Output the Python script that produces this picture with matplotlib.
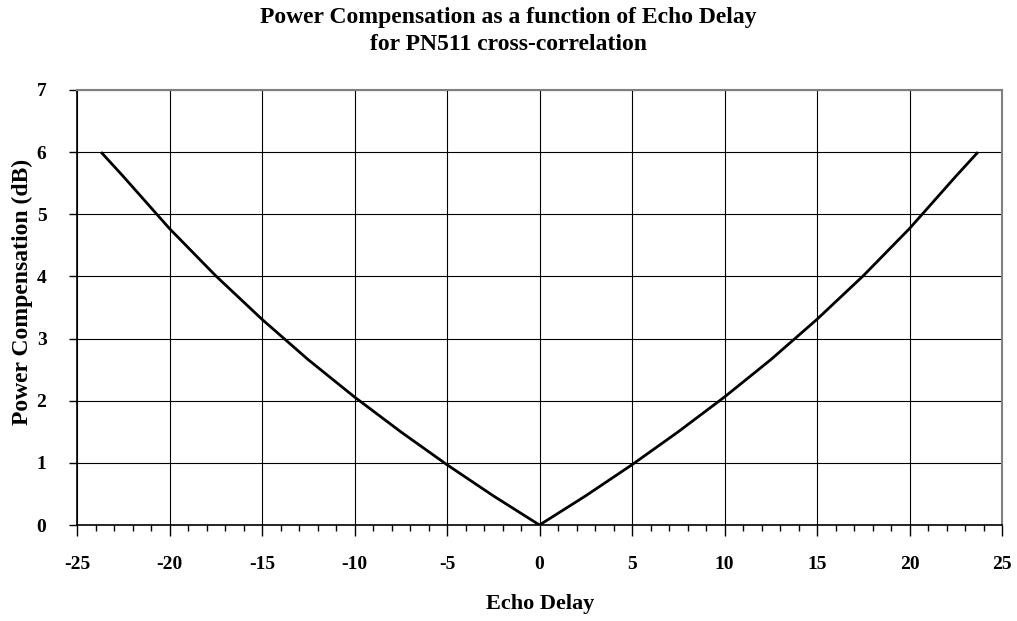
import numpy as np
import matplotlib
matplotlib.use("Agg")
import matplotlib.pyplot as plt
from matplotlib.ticker import MultipleLocator

# echo delay vs power compensation (symmetric about 0)
delay = [-23.7, -22.5, -20, -17.5, -15, -12.5, -10, -7.5, -5, -2.5, 0,
         2.5, 5, 7.5, 10, 12.5, 15, 17.5, 20, 22.5, 23.7]
comp_db = [6.0, 5.61, 4.77, 4.01, 3.31, 2.66, 2.06, 1.50, 0.97, 0.47, 0.0,
           0.47, 0.97, 1.50, 2.06, 2.66, 3.31, 4.01, 4.77, 5.61, 6.0]

x_ticks = [-25, -20, -15, -10, -5, 0, 5, 10, 15, 20, 25]
y_ticks = [0, 1, 2, 3, 4, 5, 6, 7]

plt.rcParams['font.family'] = ['Liberation Serif', 'DejaVu Serif']
plt.rcParams['font.weight'] = 'bold'
plt.rcParams['axes.unicode_minus'] = False

fig = plt.figure(figsize=(10.17, 6.21), dpi=100)
ax = fig.add_axes([77 / 1017, 1 - 525 / 621, (1002 - 77) / 1017, (525 - 90) / 621])

ax.plot(delay, comp_db, color='black', lw=2.0, solid_capstyle='butt', zorder=3)

ax.set_xlim(-25, 25)
ax.set_ylim(0, 7)
ax.set_xticks(x_ticks)
ax.set_yticks(y_ticks)
ax.xaxis.set_minor_locator(MultipleLocator(1))
ax.grid(True, which='major', color='black', lw=0.8)

ax.tick_params(axis='x', which='major', direction='out', length=8, width=1,
               labelsize=14, pad=14)
ax.tick_params(axis='x', which='minor', direction='out', length=4, width=1)
ax.tick_params(axis='y', which='major', direction='out', length=6, width=1,
               labelsize=14, pad=16)
for lab in ax.get_xticklabels() + ax.get_yticklabels():
    lab.set_fontweight('bold')

for side in ['top', 'right']:
    ax.spines[side].set_color('#808080')
    ax.spines[side].set_linewidth(1.5)
for side in ['left', 'bottom']:
    ax.spines[side].set_color('black')
    ax.spines[side].set_linewidth(1.2)

fig.text(0.5, 1 - 18 / 621, 'Power Compensation as a function of Echo Delay',
         ha='center', va='center', fontsize=17, fontweight='bold')
fig.text(0.5, 1 - 44 / 621, 'for PN511 cross-correlation',
         ha='center', va='center', fontsize=17, fontweight='bold')
fig.text(540 / 1017, 1 - 604 / 621, 'Echo Delay',
         ha='center', va='center', fontsize=16, fontweight='bold')
fig.text(22 / 1017, 1 - 292 / 621, 'Power Compensation (dB)',
         ha='center', va='center', rotation=90, fontsize=17, fontweight='bold')

fig.savefig('out.png', dpi=100)
